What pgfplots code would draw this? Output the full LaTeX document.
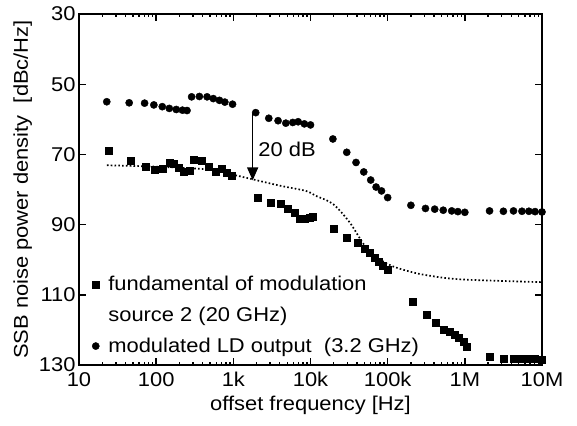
\documentclass[border=0pt]{standalone}
\usepackage{fontspec}
\setmainfont[FakeStretch=1.1]{Liberation Sans}
\usepackage{pgfplots}
\pgfplotsset{compat=1.18}
\usetikzlibrary{arrows.meta}
\pgfplotsset{markleg/.style={legend image code/.code={\draw[mark repeat=2,mark phase=2,##1] plot coordinates {(0cm,0cm)(0.12cm,0cm)(0.24cm,0cm)};}}}
\begin{document}
\begin{tikzpicture}
\path[use as bounding box] (-79bp,-61bp) rectangle (498bp,365bp);
\begin{axis}[
  scale only axis, width=463bp, height=351bp,
  xmode=log, xmin=10, xmax=1e7,
  ymin=30, ymax=130, y dir=reverse,
  xtick={10,100,1000,10000,100000,1000000,10000000},
  xticklabels={10,100,1k,10k,100k,1M,10M},
  minor xtick={},
  ytick={30,50,70,90,110,130},
  tick align=inside, major tick length=7bp,
  axis line style={line width=1.6bp},
  every tick/.style={line width=1.4bp, black},
  font=\fontsize{20}{24}\selectfont,
  ticklabel style={font=\fontsize{20}{24}\selectfont},
  xticklabel style={yshift=-4bp},
  /pgf/number format/assume math mode=true,
  xlabel={offset frequency [Hz]},
  ylabel={SSB noise power density\ \ [dBc/Hz]},
  xlabel style={yshift=-2bp},
  ylabel style={yshift=0bp},
  clip=false,
  legend style={draw=none, fill=none, at={(axis description cs:0.028,0.025)}, anchor=south west,
    row sep=11bp, font=\fontsize{20}{24}\selectfont, inner sep=0pt,
    /tikz/every odd column/.style={column sep=7bp}},
  legend cell align=left,
]
\addplot[only marks, mark=square*, mark size=3.5bp, black, markleg]
  coordinates {
  (24,68.9) (46.8,71.8) (72.4,73.6) (95.5,74.3) (120,74.0) (148,72.5) (170,72.6) (195,73.9)
  (229,74.8) (269,74.6) (302,71.5) (389,71.8) (479,73.4) (589,74.8) (708,74.1) (813,75.1)
  (955,76.0) (2090,82.3) (3020,83.8) (4070,84.1) (5130,85.6) (6170,86.7) (7240,88.2)
  (8320,88.4) (9770,87.9) (10700,87.7) (20000,91.1) (29500,93.6) (40700,95.2) (50100,96.9)
  (58900,97.9) (67600,99.4) (77600,100.7) (87100,101.6) (100000,102.9) (209000,111.9)
  (316000,115.8) (417000,118.0) (537000,119.9) (646000,120.6) (741000,121.4) (832000,122.3)
  (955000,123.3) (1070000,124.9) (2090000,127.5) (3160000,128.3) (4270000,128.3)
  (5500000,128.3) (6760000,128.2) (8130000,128.3) (10000000,128.4)
  };
\addlegendentry{fundamental of modulation}
\addlegendimage{empty legend}
\addlegendentry{source 2 (20 GHz)}
\addplot[only marks, mark=*, mark size=3.6bp, black, markleg]
  coordinates {
  (22.9,55.0) (44.7,55.3) (70.8,55.4) (93.3,55.9) (120,56.4) (148,56.9) (182,57.2) (219,57.4)
  (251,57.5) (288,53.6) (363,53.5) (457,53.6) (550,54.1) (661,54.6) (776,55.1) (977,55.7)
  (1950,58.1) (2880,59.7) (3800,60.4) (4790,61.1) (5890,60.9) (6920,60.7) (8320,61.3)
  (10000,61.6) (19500,65.6) (29500,69.4) (38900,72.3) (49000,75.0) (60300,77.3) (70800,79.3)
  (83200,80.4) (100000,82.3) (200000,84.5) (309000,85.4) (407000,85.6) (525000,85.9)
  (676000,86.1) (813000,86.3) (1000000,86.5) (2090000,86.1) (3160000,86.2) (4270000,86.1)
  (5500000,86.2) (6760000,86.2) (8130000,86.3) (10000000,86.4)
  };
\addlegendentry{modulated LD output\ \ (3.2 GHz)}
\addplot[black, line width=1.7bp, dash pattern=on 1.6bp off 2.2bp, smooth, forget plot]
  coordinates {
  (23,73.1) (100,73.5) (480,74.3) (1000,75.8) (1780,77.1) (4000,78.9) (8700,80.4) (11700,81.8)
  (19500,84.1) (32000,89.3) (52000,96.4) (79000,99.9) (117000,101.9) (195000,103.4)
  (316000,104.4) (870000,105.6) (10000000,106.4)
  };
\draw[line width=1.5bp, -{Triangle[length=13bp,width=11bp]}] (axis cs:1780,58.3) -- (axis cs:1780,77.4);
\node[anchor=west, inner sep=0pt] at (axis cs:2100,68.6) {20 dB};
\end{axis}
\end{tikzpicture}
\end{document}
